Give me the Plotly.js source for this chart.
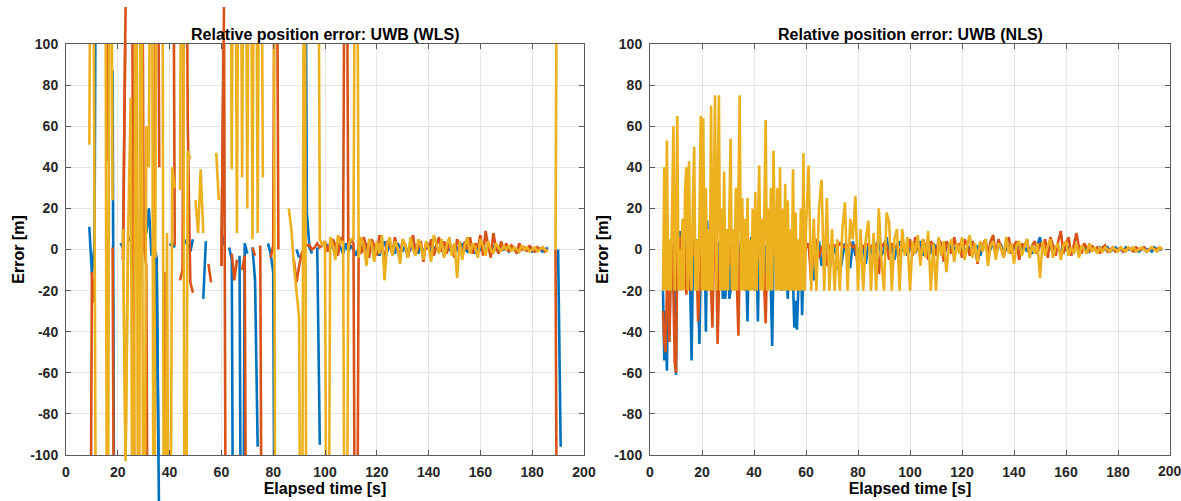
<!DOCTYPE html>
<html>
<head>
<meta charset="utf-8">
<script src="https://cdn.plot.ly/plotly-3.0.1.min.js"></script>
<style>html,body{margin:0;padding:0;background:#fff}#chart{width:1181px;height:501px}</style>
</head>
<body>
<div id="chart"></div>
<script>
// ---------- sampling grids ----------
function seq(a, b, s) { const o = []; for (let v = a; v <= b + 1e-9; v += s) o.push(Math.round(v * 10) / 10); return o; }
const tLeft = seq(9, 192, 1);                               // WLS samples
const tRight = seq(5, 60, 0.5).concat(seq(61, 197, 1));     // NLS samples

// ---------- WLS (left) : t = 9 .. 192 ----------
const wlsBlue = [
  11, -12, 2, 300, null, null, null, null, null, 87,
  -300, null, 3, 1, null, 6, 4, null, 2, -1,
  null, null, 8, 20, -3, 1, -4, -140, null, null,
  null, 2, 3, 1, null, null, 6, 4, 2, -1,
  5, null, null, null, -24, 4, null, null, null, null,
  null, 9, 2, null, 1, -5, -300, null, -3, -300,
  3, -2, null, 1, -15, -96, null, null, null, 3,
  -2, -11, -300, null, null, null, null, null, null, null,
  0, -4, null, 300, 18, 1, -2, null, 1, -95,
  null, 0, 2, 1, 1, -1, 2, 1, -2, 3,
  -1, 2, 0, -3, 1, 2, -1, 3, -2, 1,
  0, 2, -3, 1, 4, -1, 2, 0, -2, 3,
  1, -1, 2, -2, 0, 3, 1, -2, 2, -1,
  1, 3, -2, 0, 2, -1, 1, -3, 2, 0,
  -1, 2, 1, -2, 3, 0, -1, 2, 1, -2,
  1, 0, 2, -1, 1, -1, 2, 0, -1, 1,
  0, 1, -1, 0, 1, 0, -1, 1, 0, 0,
  1, -1, 0, 1, 0, -1, 0, 1, null, null,
  null, 0, -96, null
];
const wlsRed = [
  -300, -11, -26, null, null, null, 300, 43, null, 1,
  -300, null, null, -5, 118, null, 300, -2, -300, null,
  300, 2, -8, -300, null, -22, 300, 40, null, -11,
  -300, null, 300, 2, null, -15, -10, 300, 62, -16,
  -21, null, null, null, null, null, -7, -16, null, null,
  null, -8, 118, -300, null, -2, -15, -5, null, -10,
  -3, -300, null, 1, -3, null, 2, -300, null, null,
  -4, 2, 300, 0, null, null, null, null, null, -5,
  -16, -8, -2, 1, 2, 2, 0, 1, 3, 1,
  2, 4, -1, 3, 5, 2, -3, 6, 3, 300,
  0, 5, 3, -300, 4, -2, 6, 1, -4, 5,
  2, -3, 7, 1, -5, 4, 2, -2, 6, 0,
  -3, 5, 2, -4, 3, 7, -2, 1, 4, -6,
  3, 0, 5, -3, 2, 6, -1, 4, -2, 3,
  1, -4, 5, 2, -3, 4, 0, 6, -2, 3,
  1, 7, -3, 9, 2, -4, 8, 1, -2, 4,
  0, 3, -1, 2, 1, -2, 3, 0, 1, -1,
  2, 0, -1, 1, 0, 1, -1, 0, null, null,
  0, -300, null, null
];
const wlsYellow = [
  51, 300, 27, -300, null, null, 300, -300, 300, 24,
  null, null, null, 10, -103, 8, 74, -300, 300, -300,
  300, -300, 60, 40, 300, -300, 300, null, 300, -300,
  8, -300, 40, 30, null, 29, 300, -300, 48, 44,
  null, 24, 8, 39, 8, null, null, null, null, 47,
  24, null, null, null, 300, 39, 300, 8, 300, 35,
  300, 20, 300, 5, 300, 8, 300, 35, null, null,
  null, 300, -300, null, null, null, null, 20, 10, -8,
  -20, -33, -300, 300, -300, null, null, null, 300, 5,
  2, 4, -300, 6, 2, -5, 7, 3, 4, -300,
  2, 5, 5, 300, -4, 6, 2, -8, 5, 3,
  -6, 4, -2, 7, -15, 3, 6, -3, 4, 1,
  -7, 5, 2, -4, 6, 0, -3, 5, 2, -5,
  4, 1, -6, 7, 3, -2, 5, -4, 2, 6,
  -3, 3, -14, 4, -5, 2, 6, -2, 3, 1,
  -4, 5, 2, -3, 4, 0, -2, 3, 1, -1,
  2, 0, 2, -1, 1, 0, -1, 2, 0, 1,
  -1, 0, 1, -1, 0, 1, 0, -1, null, null,
  0, 300, null, null
];
// segments of the WLS lines that run past the axes box (series, first t, last t)
const overflowSeries = ['red', 'blue', 'yellow', 'red'];
const overflowFrom = [22, 35, 22, 60];
const overflowTo = [23, 36, 24, 61];

// ---------- NLS (right) : t = 5 .. 60 step 0.5, then 61 .. 197 step 1 ----------
const nlsBlue = [
  -20, -54, -30, -59, -10, -41, 5, -20, 2, -30,
  -61, 2, 9, -3, 9, 2, 13, -5, 3, -2,
  6, -20, -54, -8, 3, -2, 5, -20, -46, -10,
  2, -5, 8, -40, 14, -2, 5, -20, 3, -2,
  10, -3, 4, -20, 2, 8, -24, -20, -24, -5,
  3, -24, -20, 2, 6, -3, 4, -20, 2, -5,
  5, -2, 3, -20, -10, -35, 2, -3, 6, -1,
  3, -20, -5, -35, 2, 5, -2, 3, -20, 2,
  -3, 6, -1, -20, -47, -5, 3, -2, 4, -1,
  2, -20, -3, 5, -2, -10, -24, -3, 4, -8,
  -15, -38, -25, -39, -20, -3, 4, -32, -10, -2,
  3,
  2, -5, -15, -3, 4, -8, -2, 5, -10, -3,
  1, -6, -12, -4, 3, -2, -9, 4, -3, 1,
  -5, 2, -7, 3, -1, -4, 2, 5, -3, 0,
  6, -2, 3, -5, 1, 4, -1, 2, -3, 1,
  3, -2, 1, 4, -3, 2, 0, -2, 3, 1,
  -1, 2, -3, 1, 3, -2, 0, 2, -1, 3,
  -2, 1, 0, 4, -1, 2, -3, 1, 2, -1,
  0, 3, -2, 1, 2, -1, 0, 2, -2, 1,
  3, -1, 0, 2, -1, 1, -2, 0, 2, 6,
  -1, 1, 0, 2, -2, 1, 0, -1, 2, 0,
  1, -1, 0, 1, -1, 0, 1, 0, -1, 1,
  0, -1, 1, 0, 0, 1, -1, 0, 1, 0,
  0, -1, 1, 0, 0, 1, 0, -1, 0, 1,
  0, 0, -1, 1, 0, 0, 0
];
const nlsRed = [
  -30, -45, -50, -20, -10, -45, -5, 3, -20, -55,
  -60, 2, 6, -3, 5, 10, -5, 2, -22, -8,
  4, -20, -5, 6, -3, 2, -10, -35, -20, 3,
  -5, 8, -2, 4, -20, -3, 6, -20, -38, -5,
  8, -2, -46, -20, 3, 9, -2, 4, -5, 6,
  -2, 3, -8, 2, 5, -3, 4, -20, -42, -5,
  3, 7, -2, 4, -6, 2, 5, -3, 2, -4,
  6, -1, 3, -5, 2, 4, -3, 1, -20, -36,
  -5, 3, -2, 4, -3, 2, 5, -2, 3, -4,
  1, -8, 2, -3, 0, 4, -2, 3, -1, 2,
  -3, 0, -2, 1, -20, 0, 3, -2, 2, 0,
  1,
  3, -15, 2, 5, -4, 1, 3, -8, 2, 1,
  2, 1, 3, 2, 1, 2, 3, 1, 2, -10,
  2, 1, 3, 2, 1, 3, 2, -12, 1, 3,
  2, -5, 3, 1, 2, -3, 4, 1, -2, 5,
  -3, 6, 2, -4, 5, 1, -5, 4, 2, -3,
  5, 3, -6, 4, 1, -2, 6, 0, 3, -4,
  5, 2, -3, 4, 1, -7, 3, 2, 5, -2,
  4, 7, -3, 5, 1, -4, 3, 6, -2, 2,
  4, -5, 3, 1, 5, -3, 2, 4, -2, 3,
  1, 5, -4, 6, 2, -3, 4, 9, -2, 3,
  6, -3, 2, 8, 1, -2, 3, 1, -1, 2,
  0, 1, -2, 1, 2, -1, 0, 1, -1, 0,
  1, -1, 0, 1, 0, -1, 1, 0, 0, 1,
  -1, 0, 1, 0, 0, 1, 0
];
const nlsYellow = [
  -20, 40, -20, 53, -20, 5, -20, 20, 60, -20,
  10, 65, -20, 0, -20, 15, -20, 30, 40, -20,
  43, -10, -20, 25, 50, -20, 5, -20, 10, 65,
  -20, 64, -20, 30, -20, 10, -20, 70, -20, 20,
  75, -20, 30, 75, -20, 20, -20, 38, -20, 10,
  -20, 30, 54, -20, 10, -20, 30, -20, 40, 75,
  -20, 25, -20, 15, -20, 25, -20, 5, -20, 20,
  -20, 28, -20, 10, 41, -20, 15, -20, 25, 63,
  -20, 20, -20, 30, -20, 48, 10, -20, 30, -20,
  40, -20, 20, -20, 32, -20, 24, -20, 10, -20,
  39, -20, 18, -20, 5, -20, 20, -20, 47, -20,
  10,
  41, -20, 15, -20, 20, 34, -20, 25, -20, 10,
  -20, 5, -20, 10, 23, -20, 15, 5, 26, -20,
  10, -20, 5, 14, -20, 8, -20, 20, -5, -20,
  18, 13, -20, 5, 10, -20, 10, -3, 6, -20,
  4, -2, 7, -8, 5, -4, 9, -20, 3, -20,
  6, -3, 4, -11, 2, 5, -6, 3, -2, 6,
  -5, 2, 7, -4, 3, -6, 4, -1, 5, -8,
  2, 4, -5, 3, 1, -4, 6, -2, 3, -7,
  2, 4, -3, 1, 5, -4, 2, -2, 3, -14,
  4, -3, 2, 5, -4, 1, 3, -5, 2, 4,
  -3, 1, -2, 3, -4, 2, 0, -2, 3, -1,
  1, -2, 1, -1, 1, 0, -1, 1, 0, -1,
  1, 0, -1, 1, 0, 1, -1, 0, 1, 0,
  -1, 0, 1, 0, -1, 1, 0
];

const xTicks = [0, 20, 40, 60, 80, 100, 120, 140, 160, 180, 200];
const yTicks = [-100, -80, -60, -40, -20, 0, 20, 40, 60, 80, 100];
const titles = ['Relative position error: UWB (WLS)', 'Relative position error: UWB (NLS)'];

// ---------- styling ----------
const COL = { blue: '#0072BD', red: '#D95319', yellow: '#EDB120' };
const LW = 2.6;
const FONT = 'Liberation Sans, Arial, Helvetica, sans-serif';
const TICKFONT = { family: FONT, size: 14, color: '#262626', weight: 'bold' };

const W = 1181, H = 501;
const box = { l: 66, r: 11, top: 44, bottom: 46 };
const plotW = W - box.l - box.r;
const leftDom = [0, (584 - box.l) / plotW];
const rightDom = [(650 - box.l) / plotW, 1];
const yDom = [box.bottom / H, (H - box.top) / H];
const pxPerUnit = (H - box.top - box.bottom) / 200;

function line(x, y, c, xa, ya) {
  return { type: 'scatter', mode: 'lines', x: x, y: y, xaxis: xa, yaxis: ya,
           line: { color: COL[c], width: LW }, connectgaps: false, hoverinfo: 'skip', showlegend: false };
}
const wls = { blue: wlsBlue, red: wlsRed, yellow: wlsYellow };
const traces = [
  line(tLeft, wlsBlue, 'blue', 'x', 'y'),
  line(tLeft, wlsRed, 'red', 'x', 'y'),
  line(tLeft, wlsYellow, 'yellow', 'x', 'y'),
  line(tRight, nlsBlue, 'blue', 'x2', 'y2'),
  line(tRight, nlsRed, 'red', 'x2', 'y2'),
  line(tRight, nlsYellow, 'yellow', 'x2', 'y2')
];
overflowSeries.forEach(function (s, k) {
  const xs = [], ys = [];
  tLeft.forEach(function (t, i) { if (t >= overflowFrom[k] && t <= overflowTo[k]) { xs.push(t); ys.push(wls[s][i]); } });
  traces.push(line(xs, ys, s, 'x3', 'y3'));
});

function axX(dom, anchor, labels) {
  return { domain: dom, anchor: anchor, range: [0, 200], tickvals: xTicks, ticktext: labels,
    showgrid: true, gridcolor: '#e6e6e6', gridwidth: 1, zeroline: false,
    showline: true, linecolor: '#5a5a5a', linewidth: 1, mirror: 'ticks',
    ticks: 'inside', ticklen: 5, tickwidth: 1, tickcolor: '#5a5a5a', ticklabeloverflow: 'allow',
    tickfont: TICKFONT, ticklabelstandoff: 4,
    title: { text: 'Elapsed time [s]', font: { family: FONT, size: 16, color: '#000', weight: 'bold' }, standoff: 4 },
    fixedrange: true };
}
function axY(dom, anchor) {
  return { domain: dom, anchor: anchor, range: [-100, 100], tickvals: yTicks, ticktext: yTicks.map(String),
    showgrid: true, gridcolor: '#e6e6e6', gridwidth: 1, zeroline: false,
    showline: true, linecolor: '#5a5a5a', linewidth: 1, mirror: 'ticks',
    ticks: 'inside', ticklen: 5, tickwidth: 1, tickcolor: '#5a5a5a', ticklabeloverflow: 'allow',
    tickfont: TICKFONT, ticklabelstandoff: 4,
    title: { text: 'Error [m]', font: { family: FONT, size: 16, color: '#000', weight: 'bold' }, standoff: 1 },
    fixedrange: true };
}

// the last tick label of the right axis sits on the page edge, where Plotly drops it: draw it as text
const lastTick = xTicks[xTicks.length - 1];
const rightLabels = xTicks.map(function (v) { return v === lastTick ? '' : String(v); });

const layout = {
  width: W, height: H,
  margin: { l: box.l, r: box.r, t: 0, b: 0, pad: 0 },
  paper_bgcolor: '#ffffff', plot_bgcolor: 'rgba(0,0,0,0)',
  showlegend: false,
  font: { family: FONT, color: '#262626' },
  xaxis: axX(leftDom, 'y', xTicks.map(String)), yaxis: axY(yDom, 'x'),
  xaxis2: axX(rightDom, 'y2', rightLabels), yaxis2: axY(yDom, 'x2'),
  xaxis3: { domain: leftDom, anchor: 'y3', range: [0, 200], visible: false, fixedrange: true },
  yaxis3: { domain: [0, 1], anchor: 'x3', range: [-100 - box.bottom / pxPerUnit, 100 + box.top / pxPerUnit], visible: false, fixedrange: true },
  annotations: [
    { text: titles[0], xref: 'paper', yref: 'paper', x: (leftDom[0] + leftDom[1]) / 2, y: (H - 35) / H,
      xanchor: 'center', yanchor: 'middle', showarrow: false, font: { family: FONT, size: 16, color: '#000', weight: 'bold' } },
    { text: titles[1], xref: 'paper', yref: 'paper', x: (rightDom[0] + rightDom[1]) / 2, y: (H - 35) / H,
      xanchor: 'center', yanchor: 'middle', showarrow: false, font: { family: FONT, size: 16, color: '#000', weight: 'bold' } },
    { text: String(lastTick), xref: 'x2', yref: 'paper', x: lastTick, y: (H - 470.5) / H,
      xanchor: 'center', yanchor: 'middle', showarrow: false, font: TICKFONT }
  ]
};

Plotly.newPlot('chart', traces, layout, { staticPlot: true, displayModeBar: false });
</script>
</body>
</html>
